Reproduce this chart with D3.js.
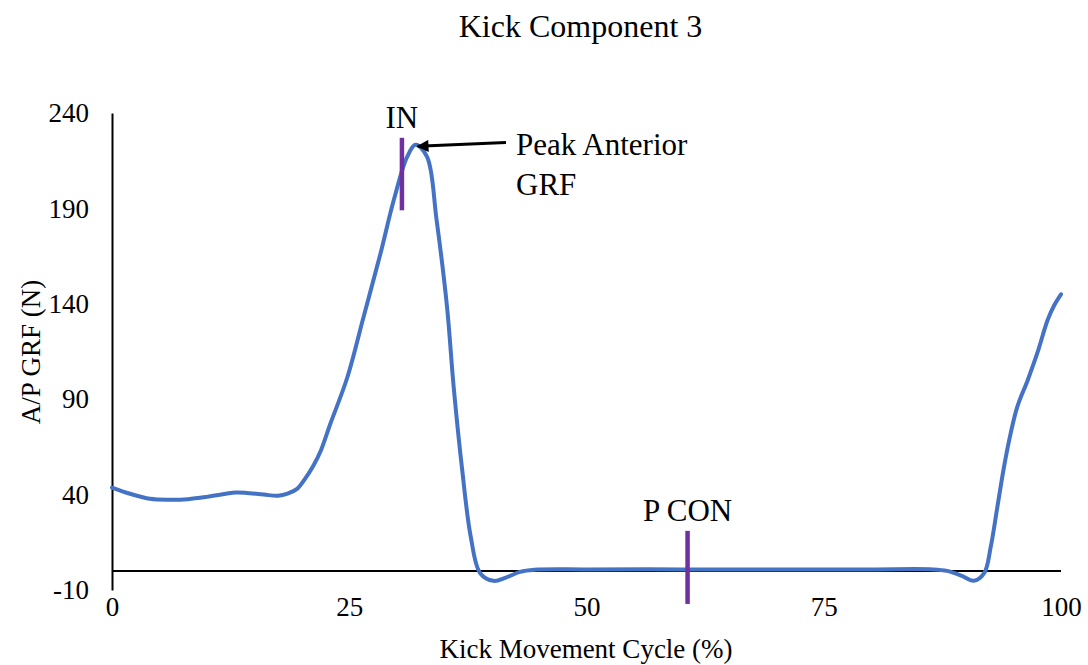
<!DOCTYPE html>
<html>
<head>
<meta charset="utf-8">
<script src="https://cdn.jsdelivr.net/npm/d3@7"></script>
<style>
  html, body { margin: 0; padding: 0; background: #fff; }
  svg text { font-family: "Liberation Serif", "Times New Roman", serif; fill: #000; }
</style>
</head>
<body>
<svg id="chart" width="1088" height="665"></svg>
<script>
// ---- data ----
const cyclePct = [0, 2, 4, 6, 8, 10, 12, 13, 14, 16, 17.5, 18.5, 19.5, 20.3, 21.2, 22, 23, 24.8, 26.5, 28.3, 29.7, 31.1, 32, 33.2, 34.2, 35.3, 36, 36.9, 37.8, 38.8, 40.2, 41.5, 43, 44.5, 50, 60, 70, 80, 86.5, 88, 89.5, 90.8, 91.9, 92.6, 93.3, 94, 94.7, 95.4, 96.5, 97.5, 98.6, 99.3, 100];
const apGRF    = [43.7, 40.3, 37.8, 37.3, 37.6, 38.8, 40.4, 41.1, 41.0, 40.0, 39.4, 40.5, 43, 48, 55, 63, 77, 101.5, 133, 166.5, 194.5, 217, 223.3, 217, 184, 138.5, 96.6, 53, 18, -1.2, -5.2, -3.5, -0.5, 0.6, 0.8, 0.8, 0.8, 0.8, 0.8, 0, -2.5, -5.2, -1.2, 12.7, 33.7, 54.7, 72.2, 86.1, 100.1, 114.1, 131.6, 139.4, 145];
const yTicks = [-10, 40, 90, 140, 190, 240];
const xTicks = [0, 25, 50, 75, 100];
const eventNames = ["IN", "P CON"];
const eventPct   = [30.55, 60.65];
const eventLow   = [189, -17.3];
const eventHigh  = [227, 21];
const peakLabel = ["Peak Anterior", "GRF"];
const titleText = "Kick Component 3";
const xTitle = "Kick Movement Cycle (%)";
const yTitle = "A/P GRF (N)";

// ---- layout ----
const svg = d3.select("#chart");
const plotLeft = 112, plotRight = 1061, plotTop = 113, plotBottom = 590;
const x = d3.scaleLinear().domain([0, 100]).range([plotLeft, plotRight]);
const y = d3.scaleLinear().domain([-10, 240]).range([plotBottom, plotTop]);
const serif = '"Liberation Serif", "Times New Roman", serif';
const plainNum = d => String(d);

// title
svg.append("text").attr("x", 580.5).attr("y", 37).attr("text-anchor", "middle")
  .style("font-size", "32px").text(titleText);

// y axis
const yAxis = svg.append("g").attr("transform", `translate(${plotLeft},0)`)
  .call(d3.axisLeft(y).tickValues(yTicks).tickSize(0).tickPadding(23).tickFormat(plainNum));
yAxis.select(".domain").attr("stroke", "#000").attr("stroke-width", 2);
yAxis.selectAll("text").style("font-size", "27px").style("font-family", serif);

// x axis labels (at bottom of plot area)
const xAxis = svg.append("g").attr("transform", `translate(0,${plotBottom})`)
  .call(d3.axisBottom(x).tickValues(xTicks).tickSize(0).tickPadding(7).tickFormat(plainNum));
xAxis.select(".domain").remove();
xAxis.selectAll("text").style("font-size", "27px").style("font-family", serif);

// horizontal axis line at zero
svg.append("line").attr("x1", x(0)).attr("x2", x(100)).attr("y1", y(0)).attr("y2", y(0))
  .attr("stroke", "#000").attr("stroke-width", 2);

// axis titles
svg.append("text").attr("x", 586).attr("y", 658).attr("text-anchor", "middle")
  .style("font-size", "27px").text(xTitle);
svg.append("text").attr("transform", "translate(40,352) rotate(-90)").attr("text-anchor", "middle")
  .style("font-size", "27px").text(yTitle);

// data line
const pts = cyclePct.map((c, i) => [c, apGRF[i]]);
svg.append("path").datum(pts)
  .attr("fill", "none").attr("stroke", "#4472C4").attr("stroke-width", 4)
  .attr("stroke-linejoin", "round").attr("stroke-linecap", "round")
  .attr("d", d3.line().x(d => x(d[0])).y(d => y(d[1])).curve(d3.curveCatmullRom.alpha(0.5)));

// event markers
eventNames.forEach((name, i) => {
  svg.append("line").attr("x1", x(eventPct[i])).attr("x2", x(eventPct[i]))
    .attr("y1", y(eventLow[i])).attr("y2", y(eventHigh[i]))
    .attr("stroke", "#7030A0").attr("stroke-width", 4.5);
  svg.append("text").attr("x", x(eventPct[i])).attr("y", y(eventHigh[i]) - 10)
    .attr("text-anchor", "middle").style("font-size", "31px").text(name);
});

// peak annotation
const peakIdx = apGRF.indexOf(d3.max(apGRF));
const tipX = x(cyclePct[peakIdx]) + 2, tipY = y(apGRF[peakIdx]) + 1.5;
const tailX = 506, tailY = 142.5;
svg.append("defs").append("marker").attr("id", "arrow")
  .attr("viewBox", "0 0 10 10").attr("refX", 9).attr("refY", 5)
  .attr("markerWidth", 4.5).attr("markerHeight", 4).attr("markerUnits", "strokeWidth")
  .attr("orient", "auto")
  .append("path").attr("d", "M0,0 L10,5 L0,10 Z").attr("fill", "#000");
svg.append("line").attr("x1", tailX).attr("y1", tailY).attr("x2", tipX).attr("y2", tipY)
  .attr("stroke", "#000").attr("stroke-width", 3).attr("marker-end", "url(#arrow)");
svg.append("text").attr("x", 516).attr("y", 155).style("font-size", "31px").text(peakLabel[0]);
svg.append("text").attr("x", 516).attr("y", 195).style("font-size", "31px").text(peakLabel[1]);
</script>
</body>
</html>
